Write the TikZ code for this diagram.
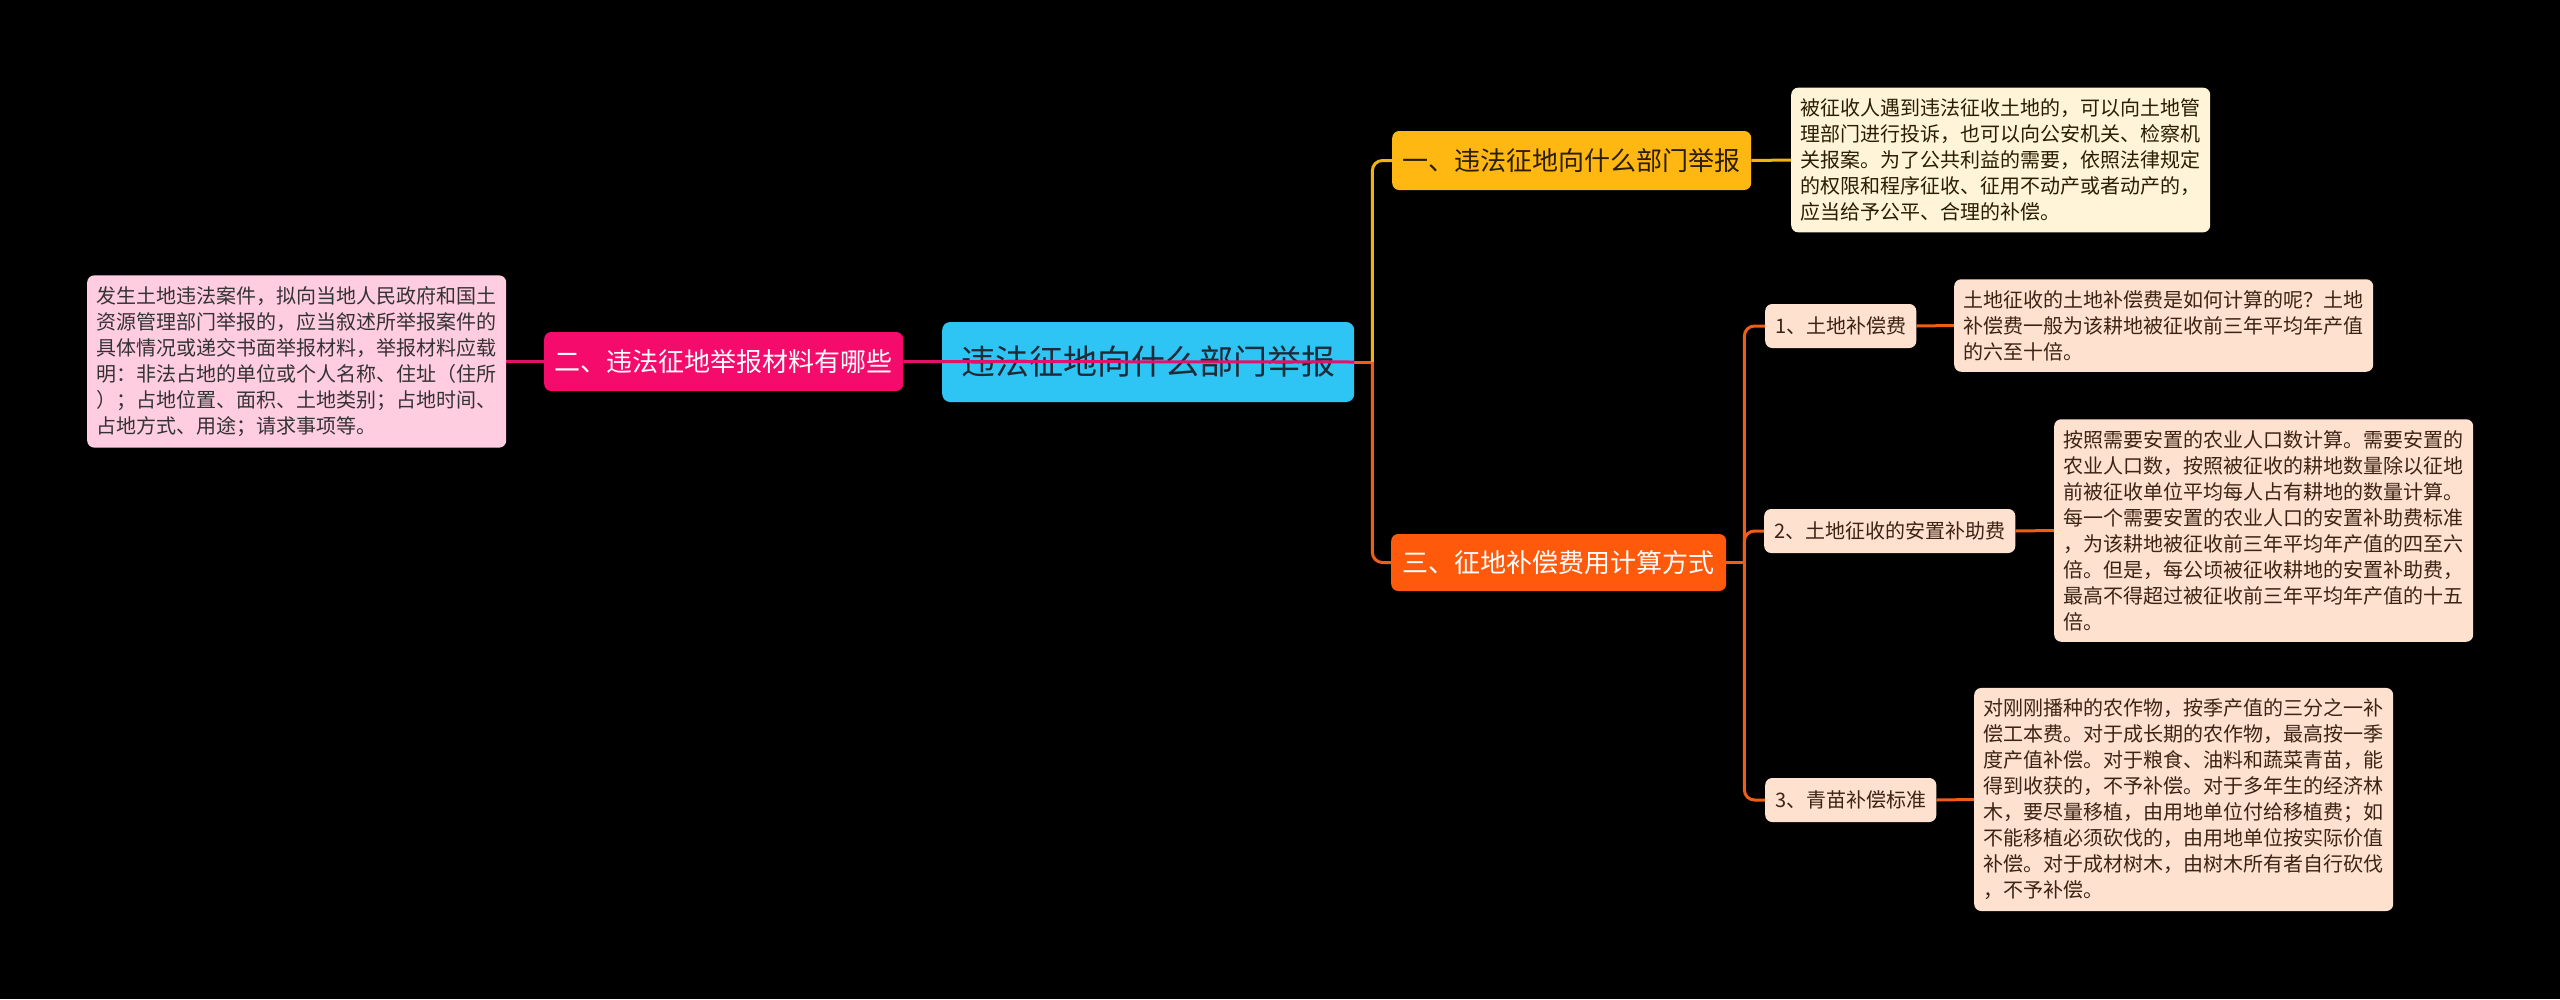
\documentclass[tikz,border=0pt]{standalone}
\usepackage{fontspec}
\setmainfont{Noto Sans CJK SC}
\usetikzlibrary{backgrounds,calc}
\definecolor{rootfill}{HTML}{2EC4F3}
\definecolor{roottext}{HTML}{1E2B38}
\definecolor{yfill}{HTML}{FFB711}
\definecolor{ytext}{HTML}{2B1E00}
\definecolor{pfill}{HTML}{F50B6B}
\definecolor{ofill}{HTML}{FF5A0B}
\definecolor{pleaf}{HTML}{FFCCE0}
\definecolor{yleaf}{HTML}{FFF4D8}
\definecolor{oleaf}{HTML}{FFE1D0}
\definecolor{leaftext}{HTML}{3B2414}
\definecolor{pline}{HTML}{E0126A}
\definecolor{yline}{HTML}{F2B40C}
\definecolor{oline}{HTML}{EE5E14}
\tikzset{
  base/.style={rounded corners=7pt, anchor=west, align=center},
  rootbox/.style={base, fill=rootfill, text=roottext, font=\fontsize{34}{40}\selectfont,
    inner xsep=19pt, inner ysep=0pt, minimum height=80pt, rounded corners=8pt},
  branchbox/.style={base, font=\fontsize{26}{30}\selectfont, inner xsep=10.5pt, inner ysep=0pt, minimum height=59pt},
  childbox/.style={base, fill=oleaf, text=leaftext, font=\fontsize{20}{24}\selectfont,
    inner xsep=10pt, inner ysep=0pt, minimum height=44pt},
  leafbox/.style={base, align=left, text width=400pt, inner xsep=9.5pt, inner ysep=11pt,
    text=leaftext, font=\fontsize{20}{26}\selectfont},
  conn/.style={line width=3pt},
}
\begin{document}
\begin{tikzpicture}[x=1pt,y=-1pt]
\begin{scope}[on background layer]
  \fill[black] (0,0) rectangle (2560,999);
\end{scope}
\useasboundingbox (0,0) rectangle (2560,999);
% nodes
\node[rootbox] (root) at (942,362) {违法征地向什么部门举报};
\node[branchbox, fill=pfill, text=white] (b2) at (544,361.5) {二、违法征地举报材料有哪些};
\node[leafbox, fill=pleaf, text=black!80] (l2) at (87,361.5) {发生土地违法案件，拟向当地人民政府和国土\\资源管理部门举报的，应当叙述所举报案件的\\具体情况或递交书面举报材料，举报材料应载\\明：非法占地的单位或个人名称、住址（住所\\）；占地位置、面积、土地类别；占地时间、\\占地方式、用途；请求事项等。};
\node[branchbox, fill=yfill, text=ytext] (b1) at (1392,160.5) {一、违法征地向什么部门举报};
\node[leafbox, fill=yleaf, text=ytext] (l1) at (1791,160) {被征收人遇到违法征收土地的，可以向土地管\\理部门进行投诉，也可以向公安机关、检察机\\关报案。为了公共利益的需要，依照法律规定\\的权限和程序征收、征用不动产或者动产的，\\应当给予公平、合理的补偿。};
\node[branchbox, fill=ofill, text=white, inner xsep=11.5pt, minimum height=57pt] (b3) at (1391,562.5) {三、征地补偿费用计算方式};
\node[childbox] (c1) at (1765,326) {1、土地补偿费};
\node[childbox] (c2) at (1764,531) {2、土地征收的安置补助费};
\node[childbox] (c3) at (1765,800) {3、青苗补偿标准};
\node[leafbox, fill=oleaf] (d1) at (1954,325.5) {土地征收的土地补偿费是如何计算的呢？土地\\补偿费一般为该耕地被征收前三年平均年产值\\的六至十倍。};
\node[leafbox, fill=oleaf] (d2) at (2054,530.5) {按照需要安置的农业人口数计算。需要安置的\\农业人口数，按照被征收的耕地数量除以征地\\前被征收单位平均每人占有耕地的数量计算。\\每一个需要安置的农业人口的安置补助费标准\\，为该耕地被征收前三年平均年产值的四至六\\倍。但是，每公顷被征收耕地的安置补助费，\\最高不得超过被征收前三年平均年产值的十五\\倍。};
\node[leafbox, fill=oleaf] (d3) at (1974,799.5) {对刚刚播种的农作物，按季产值的三分之一补\\偿工本费。对于成长期的农作物，最高按一季\\度产值补偿。对于粮食、油料和蔬菜青苗，能\\得到收获的，不予补偿。对于多年生的经济林\\木，要尽量移植，由用地单位付给移植费；如\\不能移植必须砍伐的，由用地单位按实际价值\\补偿。对于成材树木，由树木所有者自行砍伐\\，不予补偿。};
% junctions
\coordinate (j1) at ($(root.east)+(18,0)$);
\coordinate (j3) at ($(b3.east)+(18,0)$);
\begin{scope}[on background layer]
  \draw[conn, pline] (l2.east) -- (b2.west);
  \draw[conn, oline] (root.east) -- (j1);
  \draw[conn, yline, rounded corners=10pt] (j1) |- (b1.west);
  \draw[conn, oline, rounded corners=10pt] (j1) |- (b3.west);
  \draw[conn, yline] (b1.east) -- (l1.west);
  \draw[conn, oline] (b3.east) -- (j3);
  \draw[conn, oline, rounded corners=10pt] (j3) |- (c1.west);
  \draw[conn, oline, rounded corners=10pt] (j3) |- (c2.west);
  \draw[conn, oline, rounded corners=10pt] (j3) |- (c3.west);
  \draw[conn, oline] (c1.east) -- (d1.west);
  \draw[conn, oline] (c2.east) -- (d2.west);
  \draw[conn, oline] (c3.east) -- (d3.west);
\end{scope}
% the pink connector is drawn over the root in the reference
\draw[conn, pline] (b2.east) -- (root.east);
\end{tikzpicture}
\end{document}
